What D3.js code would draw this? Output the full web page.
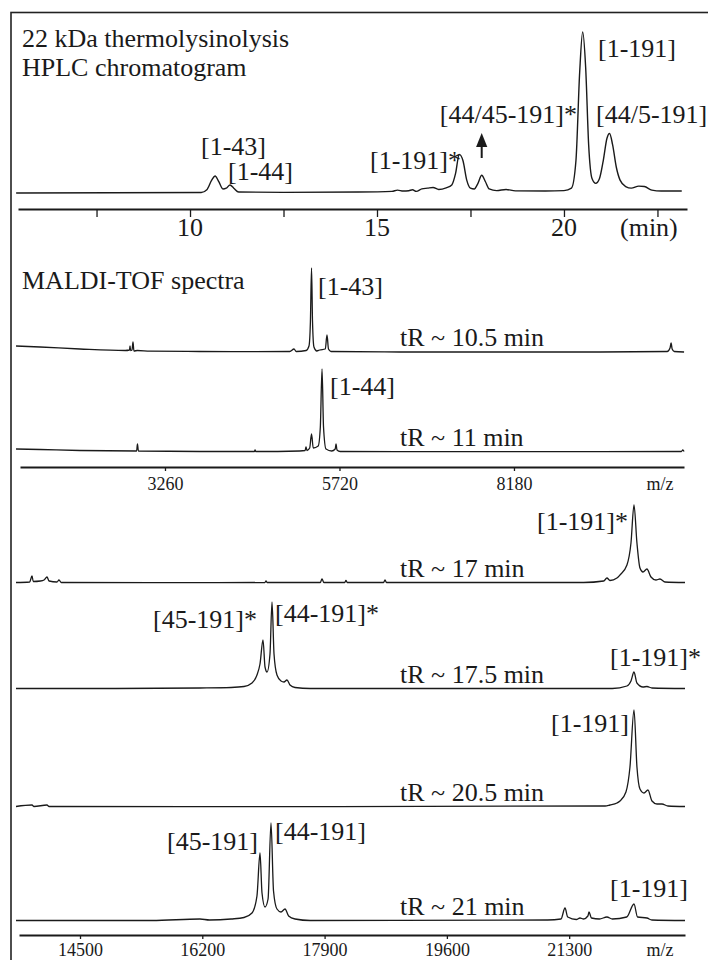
<!DOCTYPE html>
<html>
<head>
<meta charset="utf-8">
<script src="https://cdn.jsdelivr.net/npm/d3@7/dist/d3.min.js"></script>
<style>
body{margin:0;background:#fff;}
</style>
</head>
<body>
<script>
// HPLC chromatogram, [time (min), intensity %]
var hplcTrace=[[5.35,0],[10.3,0.3],[10.45,2],[10.58,8],[10.67,10.6],[10.77,7],[10.88,2.5],[10.97,3],[11.07,5],[11.17,3],[11.3,0.6],
[12.5,0.4],[14.5,0.6],[15.4,1],[15.55,1.8],[15.7,1.2],[15.85,1.4],[15.95,2],[16.05,1],[16.2,2.6],[16.35,3],[16.5,3.4],[16.65,2.2],
[16.85,3.2],[17.0,5],[17.1,12],[17.2,24],[17.3,20],[17.4,8],[17.5,3],[17.6,2.5],[17.7,6],[17.8,11],[17.9,7],[18.0,2.5],[18.2,1.5],
[18.45,2.2],[18.7,1.3],[19.5,1.2],[20.0,1.5],[20.2,3],[20.32,20],[20.42,75],[20.5,100],[20.58,78],[20.66,30],[20.75,9],[20.85,6],
[20.95,9],[21.05,20],[21.15,34],[21.22,37],[21.3,30],[21.4,16],[21.5,8],[21.65,4],[21.8,3],[22.0,4.3],[22.15,4],[22.35,1.8],
[22.6,1.2],[23.15,1.2]];
var minorTimeTicks=d3.range(11,47).map(function(i){return i/2;});
var longTimeTicks=[7.5,10,12.5,15,17.5,20,22.5];
var timeLabels=[10,15,20];

// MALDI-TOF spectra, [m/z, relative height]
var spec105=[[1160,6],[1500,5],[2060,3],[2700,1.5],[2760,2],[2767,6],[2775,1.5],[2795,2],[2809,10],[2822,1],[2870,1.5],[3050,0.8],
[3750,0.5],[4530,0.3],[5020,0.5],[5079,3],[5110,0.5],[5250,1.5],[5290,6],[5310,30],[5326,84],[5340,30],[5360,5],[5400,1],[5440,2],
[5520,3],[5544,17],[5565,3],[5600,0.5],[6574,0],[9394,0],[10340,0.5],[10380,4],[10395,9],[10410,3],[10440,0.5],[10578,0]];
var spec11=[[1160,3],[1500,2.5],[2060,1.5],[2860,1],[2872,8],[2885,1],[3750,0.5],[4520,0.5],[4530,2],[4540,0.5],[5160,1],[5235,1.5],
[5248,5],[5262,1.5],[5300,4],[5326,18],[5350,4],[5420,6],[5450,25],[5474,83],[5495,25],[5530,3],[5610,1],[5660,3],[5671,8],[5685,2],
[5730,0.5],[6574,0.3],[9394,0.3],[10540,0.5],[10560,2],[10578,0.5]];
var spec17=[[13610,0.5],[13800,1],[13833,7],[13850,1.5],[13950,2],[14000,3],[14041,6],[14070,2],[14180,1],[14208,3],[14240,0.5],
[15500,0.3],[17070,0.5],[17086,2],[17100,0.5],[17840,0.5],[17864,4],[17890,0.5],[18180,0.5],[18197,2.5],[18215,0.5],[18720,0.5],
[18740,3],[18760,0.5],[21500,0.5],[21780,2],[21825,5],[21867,2.5],[21964,5],[22006,8],[22103,18],[22159,40],[22201,78],[22242,40],
[22284,15],[22326,11],[22381,14],[22437,6],[22506,3],[22562,4],[22632,1],[22910,0.5]];
var spec175=[[13610,0.5],[15000,0.5],[16168,1],[16600,1.5],[16780,2.5],[16891,6],[16960,14],[17002,25],[17044,49],[17072,22],
[17100,17],[17141,35],[17169,87],[17197,35],[17238,14],[17294,8],[17335,7],[17377,9],[17419,4],[17489,1.5],[17700,0.5],[21900,0.5],
[22103,3],[22159,8],[22201,17],[22242,6],[22326,2],[22381,2.5],[22451,1],[22910,0.5]];
var spec205=[[13610,0.5],[13833,2],[13860,0.5],[14041,2],[14070,0.5],[16000,0.3],[21800,1],[21867,2],[21964,4],[22006,6],[22089,15],
[22145,40],[22201,97],[22242,40],[22284,18],[22340,14],[22395,17],[22451,6],[22520,3],[22590,3],[22673,1],[22910,0.5]];
var spec21=[[13610,0.5],[15500,0.5],[16168,2],[16300,1],[16600,2],[16780,3.5],[16891,8],[16960,25],[17002,68],[17030,28],[17072,14],
[17114,22],[17155,98],[17190,30],[17238,12],[17294,9],[17350,12],[17400,5],[17489,2],[17700,0.5],[21000,1],[21186,2],[21242,13],
[21280,4],[21400,1.5],[21450,3],[21500,2],[21560,5],[21575,9],[21610,3],[21720,2],[21825,4],[21900,2],[22100,4],[22201,17],[22250,4],
[22381,3],[22450,1],[22910,0.5]];
var lowTicks=[3260,5720,8180];
var highTicks=[14500,16200,17900,19600,21300];
var retentionLabels=["tR ~ 10.5 min","tR ~ 11 min","tR ~ 17 min","tR ~ 17.5 min","tR ~ 20.5 min","tR ~ 21 min"];

var FONT='"Liberation Serif","DejaVu Serif","Times New Roman",serif';
var INK="#1a1a1a";

var svg=d3.select("body").append("svg").attr("width",708).attr("height",960);

// frame (open on right / bottom like the cropped figure)
svg.append("rect").attr("x",11).attr("y",12.5).attr("width",760).attr("height",1000)
  .attr("fill","none").attr("stroke","#222").attr("stroke-width",1.6);

function txt(t,x,y,anchor,size){
  return svg.append("text").attr("x",x).attr("y",y).attr("text-anchor",anchor||"start")
    .style("font-family",FONT).style("font-size",(size||26)+"px").style("fill",INK).text(t);
}

/******** HPLC chromatogram ********/
var xTime=d3.scaleLinear().domain([5.4,23.29]).range([18,687]);
var yHplc=d3.scaleLinear().domain([0,100]).range([193,32]);

svg.append("path").datum(hplcTrace)
  .attr("d",d3.line().x(d=>xTime(d[0])).y(d=>yHplc(d[1])).curve(d3.curveMonotoneX))
  .attr("fill","none").attr("stroke",INK).attr("stroke-width",1.4);

var gT=svg.append("g").attr("transform","translate(0,209)");
gT.call(d3.axisBottom(xTime).tickValues(minorTimeTicks).tickSize(4).tickSizeOuter(0).tickFormat(""));
gT.call(d3.axisBottom(xTime).tickValues(longTimeTicks).tickSize(8).tickSizeOuter(0).tickFormat(""));
gT.selectAll(".domain").attr("stroke-width",2).attr("stroke",INK);
gT.selectAll(".tick line").attr("stroke",INK).attr("stroke-width",1.3);
timeLabels.forEach(function(v){ txt(v,xTime(v),236,"middle"); });
txt("(min)",620,236);

txt("22 kDa thermolysinolysis",22,47);
txt("HPLC chromatogram",22,76);
txt("[1-43]",201,155);
txt("[1-44]",228,180);
txt("[1-191]*",461,169,"end");
txt("[44/45-191]*",577,123,"end");
txt("[1-191]",598,57);
txt("[44/5-191]",596,123);

// arrow under [44/45-191]*
svg.append("defs").append("marker").attr("id","ah").attr("viewBox","0 0 10 10")
  .attr("refX",5).attr("refY",5).attr("markerWidth",7).attr("markerHeight",7).attr("orient","auto")
  .append("path").attr("d","M0,1 L10,5 L0,9 Z").attr("fill",INK);
svg.append("line").attr("x1",xTime(17.8)).attr("x2",xTime(17.8)).attr("y1",158).attr("y2",140)
  .attr("stroke",INK).attr("stroke-width",2).attr("marker-end","url(#ah)");

/******** MALDI-TOF spectra ********/
txt("MALDI-TOF spectra",22,289);

var xLow=d3.scaleLinear().domain([1216,10577]).range([20,684]);
var xHigh=d3.scaleLinear().domain([13652,22910]).range([19,685]);
var panels=[
  {data:spec105,x:xLow,base:352},
  {data:spec11,x:xLow,base:452},
  {data:spec17,x:xHigh,base:583},
  {data:spec175,x:xHigh,base:689},
  {data:spec205,x:xHigh,base:807},
  {data:spec21,x:xHigh,base:921}
];
panels.forEach(function(p,i){
  var y=d3.scaleLinear().domain([0,100]).range([p.base,p.base-100]);
  svg.append("path").datum(p.data)
    .attr("d",d3.line().x(d=>p.x(d[0])).y(d=>y(d[1])).curve(d3.curveMonotoneX))
    .attr("fill","none").attr("stroke",INK).attr("stroke-width",1.3);
  txt(retentionLabels[i],400,p.base-6);
});

function mzAxis(scale,ticks,y,pad){
  var g=svg.append("g").attr("transform","translate(0,"+y+")")
    .call(d3.axisBottom(scale).tickValues(ticks).tickSize(4).tickSizeOuter(0).tickPadding(pad).tickFormat(d3.format("d")));
  g.selectAll(".domain").attr("stroke-width",2).attr("stroke",INK);
  g.selectAll(".tick line").attr("stroke",INK).attr("stroke-width",1.3);
  g.selectAll("text").style("font-family",FONT).style("font-size","18px").style("fill",INK);
  return g;
}
mzAxis(xLow,lowTicks,467,6);
txt("m/z",660,490,"middle",18);
mzAxis(xHigh,highTicks,935,4);
txt("m/z",660,956,"middle",18);

txt("[1-43]",318,295);
txt("[1-44]",330,395);
txt("[1-191]*",628,530,"end");
txt("[45-191]*",257,628,"end");
txt("[44-191]*",275,622);
txt("[1-191]*",610,666);
txt("[1-191]",629,732,"end");
txt("[45-191]",258,850,"end");
txt("[44-191]",275,840);
txt("[1-191]",610,897);
</script>
</body>
</html>
